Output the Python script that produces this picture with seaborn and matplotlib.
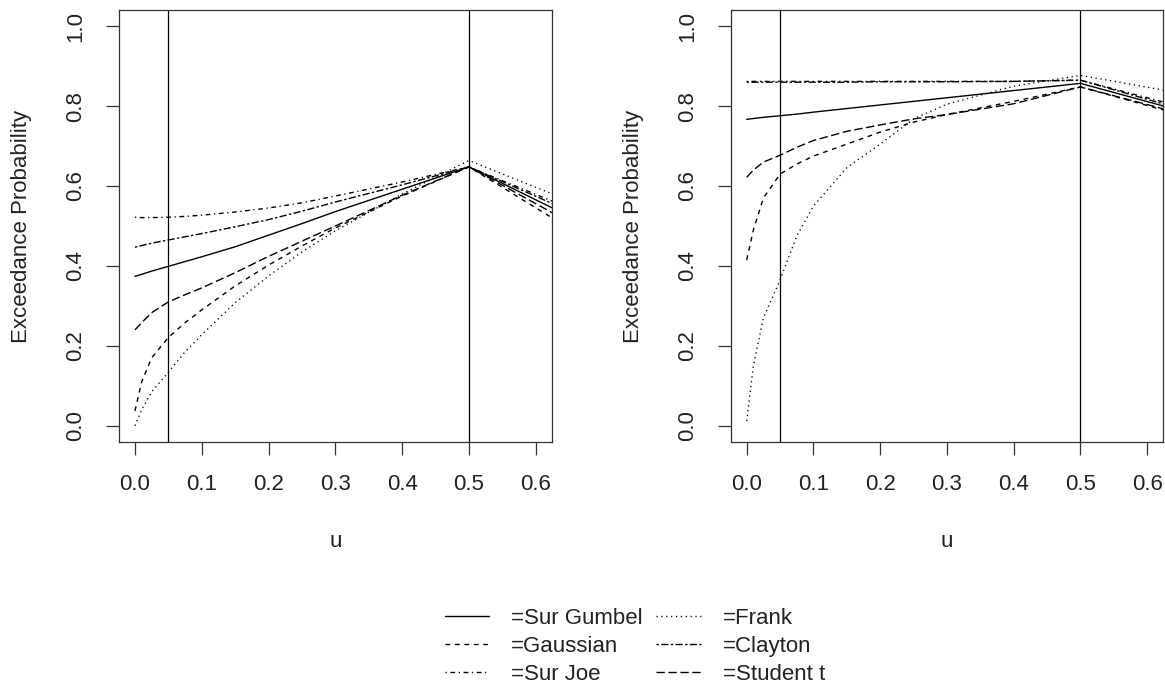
import seaborn as sns
import matplotlib.pyplot as plt

# u grid (same for both panels)
u = [0, 0.01, 0.025, 0.05, 0.075, 0.1, 0.15, 0.2, 0.25, 0.3, 0.4, 0.5, 0.625]

names = ["Sur Gumbel", "Gaussian", "Sur Joe", "Frank", "Clayton", "Student t"]

# left panel
left_gumbel = [0.374, 0.379, 0.387, 0.399, 0.411, 0.423, 0.448, 0.477, 0.506, 0.536, 0.592, 0.648, 0.545]
left_gauss = [0.037, 0.110, 0.170, 0.221, 0.258, 0.290, 0.350, 0.402, 0.450, 0.495, 0.575, 0.648, 0.520]
left_joe = [0.522, 0.521, 0.521, 0.522, 0.524, 0.527, 0.535, 0.545, 0.558, 0.575, 0.610, 0.648, 0.562]
left_frank = [0.000, 0.040, 0.085, 0.134, 0.185, 0.228, 0.308, 0.375, 0.435, 0.488, 0.580, 0.664, 0.580]
left_clayton = [0.447, 0.451, 0.457, 0.465, 0.473, 0.481, 0.498, 0.516, 0.537, 0.560, 0.603, 0.648, 0.556]
left_student = [0.240, 0.258, 0.283, 0.310, 0.328, 0.345, 0.383, 0.424, 0.462, 0.500, 0.577, 0.648, 0.533]

# right panel
right_gumbel = [0.767, 0.769, 0.772, 0.776, 0.780, 0.785, 0.794, 0.803, 0.812, 0.821, 0.839, 0.857, 0.800]
right_gauss = [0.415, 0.490, 0.570, 0.630, 0.655, 0.675, 0.705, 0.735, 0.760, 0.779, 0.812, 0.848, 0.790]
right_joe = [0.862, 0.862, 0.862, 0.862, 0.862, 0.862, 0.862, 0.862, 0.862, 0.862, 0.862, 0.865, 0.810]
right_frank = [0.012, 0.150, 0.270, 0.365, 0.475, 0.550, 0.646, 0.705, 0.768, 0.805, 0.850, 0.877, 0.840]
right_clayton = [0.860, 0.860, 0.860, 0.860, 0.860, 0.860, 0.860, 0.861, 0.861, 0.861, 0.862, 0.865, 0.805]
right_student = [0.622, 0.640, 0.660, 0.677, 0.697, 0.714, 0.737, 0.753, 0.768, 0.779, 0.806, 0.848, 0.793]

vlines = [0.05, 0.5]
xticks = [0.0, 0.1, 0.2, 0.3, 0.4, 0.5, 0.6]
yticks = [0.0, 0.2, 0.4, 0.6, 0.8, 1.0]

# R-like line types (points)
line_types = {
    "Sur Gumbel": "-",
    "Gaussian": (0, (3.4, 3.4)),
    "Sur Joe": (0, (0.9, 2.6, 3.4, 2.6)),
    "Frank": (0, (0.9, 2.6)),
    "Clayton": (0, (1.7, 1.7, 5.2, 1.7)),
    "Student t": (0, (6.0, 2.6)),
}

sns.set_theme(style="white")
plt.rcParams["font.family"] = ["Liberation Sans", "DejaVu Sans"]
plt.rcParams["lines.scale_dashes"] = False

fig = plt.figure(figsize=(11.65, 6.84), dpi=100)
ax1 = fig.add_axes([0.1021, 0.3542, 0.3715, 0.6308])
ax2 = fig.add_axes([0.6272, 0.3542, 0.3713, 0.6308])

panels = [
    (ax1, [left_gumbel, left_gauss, left_joe, left_frank, left_clayton, left_student]),
    (ax2, [right_gumbel, right_gauss, right_joe, right_frank, right_clayton, right_student]),
]

handles = []
for ax, series in panels:
    for name, vals in zip(names, series):
        sns.lineplot(x=u, y=vals, ax=ax, color="black", lw=1.0,
                     linestyle=line_types[name], errorbar=None, legend=False)
        if ax is ax1:
            handles.append(ax.lines[-1])
    for xv in vlines:
        ax.axvline(xv, color="black", lw=0.9)
    ax.set_xlim(-0.024, 0.624)
    ax.set_ylim(-0.04, 1.04)
    ax.set_xticks(xticks)
    ax.set_yticks(yticks)
    ax.set_xticklabels([f"{t:.1f}" for t in xticks])
    ax.set_yticklabels([f"{t:.1f}" for t in yticks], rotation=90, va="center")
    ax.tick_params(direction="out", length=9.5, width=0.9, color="#333333",
                   labelsize=16, labelcolor="#222222", pad=14, bottom=True, left=True)
    for sp in ax.spines.values():
        sp.set_visible(True)
        sp.set_color("#333333")
        sp.set_linewidth(0.9)
    ax.set_xlabel("u", fontsize=16, color="#222222", labelpad=26)
    ax.set_ylabel("Exceedance Probability", fontsize=16, color="#222222", labelpad=24)

fig.legend(handles, ["=" + n for n in names], ncol=2, loc="center",
           bbox_to_anchor=(0.545, 0.055), frameon=False, fontsize=16,
           handlelength=2.0, handletextpad=1.0, columnspacing=0.6,
           labelspacing=0.3, labelcolor="#222222")

fig.savefig("out.png", dpi=100)
